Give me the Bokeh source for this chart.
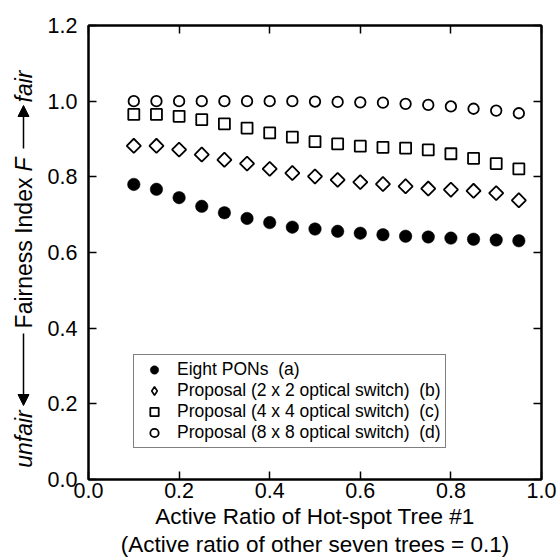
from bokeh.plotting import figure
from bokeh.embed import file_html
from bokeh.resources import INLINE
from bokeh.layouts import row
from bokeh.core.properties import value
from bokeh.models import (Arrow, NormalHead, LinearAxis, FixedTicker,
                          PrintfTickFormatter, Range1d, Legend, LegendItem)
import math

# ---- data ----
active_ratio = [0.10, 0.15, 0.20, 0.25, 0.30, 0.35, 0.40, 0.45, 0.50,
                0.55, 0.60, 0.65, 0.70, 0.75, 0.80, 0.85, 0.90, 0.95]
eight_pons = [0.780, 0.767, 0.745, 0.722, 0.705, 0.690, 0.679, 0.667, 0.662,
              0.656, 0.651, 0.647, 0.643, 0.641, 0.638, 0.635, 0.633, 0.631]
proposal_2x2 = [0.882, 0.882, 0.872, 0.859, 0.845, 0.835, 0.821, 0.810, 0.801,
                0.792, 0.786, 0.781, 0.775, 0.769, 0.766, 0.763, 0.757, 0.738]
proposal_4x4 = [0.965, 0.965, 0.960, 0.951, 0.940, 0.929, 0.916, 0.905, 0.893,
                0.887, 0.881, 0.878, 0.876, 0.871, 0.861, 0.849, 0.835, 0.821]
proposal_8x8 = [1.000, 1.000, 1.000, 1.000, 1.000, 1.000, 1.000, 1.000, 0.999,
                0.998, 0.997, 0.996, 0.993, 0.990, 0.986, 0.980, 0.975, 0.968]

labels = ["Eight PONs \u00a0(a)",
          "Proposal (2 x 2 optical switch) \u00a0(b)",
          "Proposal (4 x 4 optical switch) \u00a0(c)",
          "Proposal (8 x 8 optical switch) \u00a0(d)"]
x_ticks = [0.0, 0.2, 0.4, 0.6, 0.8, 1.0]
y_ticks = [0.0, 0.2, 0.4, 0.6, 0.8, 1.0, 1.2]
x_label = "Active Ratio of Hot-spot Tree #1"
x_label2 = "(Active ratio of other seven trees = 0.1)"
y_label_parts = ["unfair", "Fairness Index", "F", "fair"]

FONT = "Liberation Sans"
TOP, BOTTOM = 25, 81          # borders shared by both figures of the row

# ---------------- main plot ----------------
p = figure(width=516, height=560, x_range=(0, 1), y_range=(0, 1.2),
           output_backend="svg", toolbar_location=None, title=None,
           min_border_left=43, min_border_right=19,
           min_border_top=TOP, min_border_bottom=BOTTOM)
p.grid.visible = False
p.outline_line_color = "black"
p.outline_line_width = 2

r_a = p.scatter(active_ratio, eight_pons, marker="circle", size=12.5,
                fill_color="black", line_color="black", line_width=0.5)
r_b = p.scatter(active_ratio, proposal_2x2, marker="square", angle=math.pi / 4,
                size=10, fill_color="white", line_color="black", line_width=1.8)
r_c = p.scatter(active_ratio, proposal_4x4, marker="square", size=11,
                fill_color="white", line_color="black", line_width=1.8)
r_d = p.scatter(active_ratio, proposal_8x8, marker="circle", size=10.5,
                fill_color="white", line_color="black", line_width=1.8)
# legend glyph for series (b): the legend never rotates markers, so a
# zero-size diamond renderer of the same data supplies the legend symbol
r_b_leg = p.scatter(active_ratio, proposal_2x2, marker="diamond", size=0,
                    fill_color="white", line_color="black", line_width=1.6)


def style_axis(ax, ticks, show_labels=True):
    ax.ticker = FixedTicker(ticks=ticks)
    ax.formatter = PrintfTickFormatter(format="%.1f")
    ax.major_tick_in = 8
    ax.major_tick_out = 0
    ax.minor_tick_line_color = None
    ax.major_tick_line_width = 1.5
    ax.major_tick_line_color = "black"
    ax.axis_line_color = "black"
    ax.axis_line_width = 2
    ax.major_label_text_font = FONT
    ax.major_label_text_color = "black"
    if show_labels:
        ax.major_label_text_font_size = "21.5px"
    else:
        ax.major_label_overrides = {t: "" for t in ticks}
        ax.major_label_text_font_size = "1px"
        ax.major_label_standoff = 0


style_axis(p.xaxis[0], x_ticks)
style_axis(p.yaxis[0], y_ticks)
p.xaxis[0].major_label_standoff = 3
p.yaxis[0].major_label_standoff = 11

p.xaxis[0].axis_label = x_label
p.xaxis[0].axis_label_text_font = FONT
p.xaxis[0].axis_label_text_font_size = "22.5px"
p.xaxis[0].axis_label_text_font_style = "normal"
p.xaxis[0].axis_label_text_color = "black"
p.xaxis[0].axis_label_standoff = 3

# second line of the x label: label-only axis stacked below
ax2 = LinearAxis(ticker=FixedTicker(ticks=[]), axis_label=x_label2)
ax2.axis_line_color = None
ax2.major_tick_line_color = None
ax2.minor_tick_line_color = None
ax2.major_tick_in = 0
ax2.major_tick_out = 0
ax2.major_label_text_font_size = "1px"
ax2.major_label_standoff = 0
ax2.axis_label_standoff = 0
ax2.axis_label_text_font = FONT
ax2.axis_label_text_font_size = "22.5px"
ax2.axis_label_text_font_style = "normal"
ax2.axis_label_text_color = "black"
p.add_layout(ax2, "below")

top_ax = LinearAxis()
right_ax = LinearAxis()
style_axis(top_ax, x_ticks, show_labels=False)
style_axis(right_ax, y_ticks, show_labels=False)
p.add_layout(top_ax, "above")
p.add_layout(right_ax, "right")

legend = Legend(items=[LegendItem(label=labels[0], renderers=[r_a]),
                       LegendItem(label=labels[1], renderers=[r_b_leg]),
                       LegendItem(label=labels[2], renderers=[r_c]),
                       LegendItem(label=labels[3], renderers=[r_d])])
legend.location = (45, 31)
legend.label_text_font = FONT
legend.label_text_font_size = "17.5px"
legend.label_text_color = "black"
legend.label_height = 19
legend.glyph_height = 21
legend.glyph_width = 32
legend.label_standoff = 7
legend.spacing = 0
legend.padding = 4
legend.margin = 0
legend.border_line_color = "black"
legend.border_line_width = 1.5
legend.background_fill_color = "white"
legend.background_fill_alpha = 1
p.add_layout(legend, "center")

# ---------------- y label strip ----------------
# its frame spans page rows TOP..560-BOTTOM, so data y == page y there
yl = figure(width=44, height=560, x_range=Range1d(0, 44),
            y_range=Range1d(560 - BOTTOM, TOP), output_backend="svg",
            toolbar_location=None, title=None,
            min_border_left=0, min_border_right=0,
            min_border_top=TOP, min_border_bottom=BOTTOM,
            x_axis_type=None, y_axis_type=None)
yl.outline_line_color = None

text_x = 23
centers = [438.5, 252.5, 164.0, 86.0]
styles = ["italic", "normal", "italic", "italic"]
for txt, cy, st in zip(y_label_parts, centers, styles):
    yl.text(x=[text_x], y=[cy], text=[txt], angle=math.pi / 2,
            text_font=value(FONT), text_font_size="23px", text_font_style=st,
            text_align="center", text_baseline="middle", text_color="black")

arrow_x = 23
yl.add_layout(Arrow(end=NormalHead(size=11, fill_color="black",
                                   line_color="black"),
                    x_start=arrow_x, y_start=333, x_end=arrow_x, y_end=405,
                    line_width=1.5, line_color="black"))
yl.add_layout(Arrow(end=NormalHead(size=11, fill_color="black",
                                   line_color="black"),
                    x_start=arrow_x, y_start=148, x_end=arrow_x, y_end=105,
                    line_width=1.5, line_color="black"))

layout = row(yl, p)
open("out.html", "w").write(file_html(layout, INLINE))
